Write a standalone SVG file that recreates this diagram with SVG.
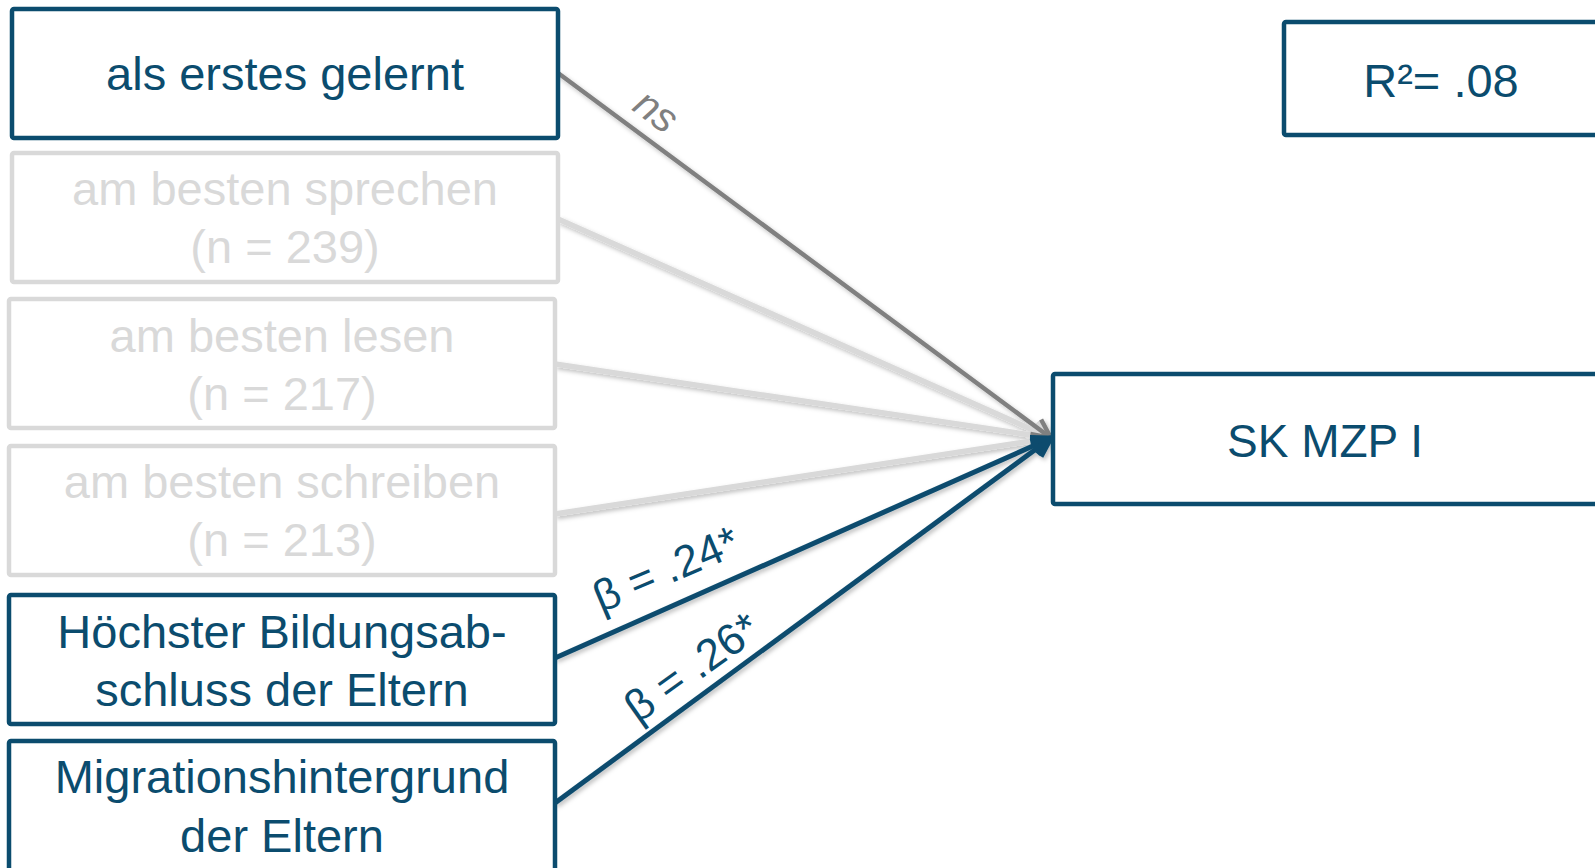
<svg xmlns="http://www.w3.org/2000/svg" width="1595" height="868" viewBox="0 0 1595 868">
<style>
  text { font-family: "Liberation Sans", Arial, sans-serif; text-anchor: middle; }
  .box { fill: #ffffff; stroke: #0b4c6e; stroke-width: 4.5; }
  .boxg { fill: #ffffff; stroke: #d9d9d9; stroke-width: 4.5; }
  .t { font-size: 47px; fill: #0b4c6e; }
  .tg { font-size: 47px; fill: #d9d9d9; }
  .lb { font-size: 44px; fill: #0b4c6e; text-anchor: start; }
  .ns { font-size: 41px; fill: #808080; font-style: italic; }
  .c-gray { stroke: #808080; stroke-width: 4.5; fill: none; }
  .c-light { stroke: #d9d9d9; stroke-width: 5.5; fill: none; }
  .c-blue { stroke: #0b4c6e; stroke-width: 5; fill: none; }
</style>
<defs>
  <filter id="sh" x="-10%" y="-10%" width="120%" height="130%">
    <feDropShadow dx="2" dy="2.5" stdDeviation="2" flood-color="#000" flood-opacity="0.25"/>
  </filter>
  <marker id="aGray" markerUnits="userSpaceOnUse" markerWidth="30" markerHeight="30" refX="22" refY="11" orient="auto" viewBox="0 0 30 22">
    <path d="M3,2 L22,11 L3,20" fill="none" stroke="#808080" stroke-width="4.5" stroke-linejoin="miter"/>
  </marker>
  <marker id="aLight" markerUnits="userSpaceOnUse" markerWidth="30" markerHeight="30" refX="22" refY="11" orient="auto" viewBox="0 0 30 22">
    <path d="M3,2 L22,11 L3,20" fill="none" stroke="#d9d9d9" stroke-width="5" stroke-linejoin="miter"/>
  </marker>
  <marker id="aBlue" markerUnits="userSpaceOnUse" markerWidth="30" markerHeight="30" refX="22" refY="11" orient="auto" viewBox="0 0 30 22">
    <path d="M3,2 L22,11 L3,20" fill="none" stroke="#0b4c6e" stroke-width="5" stroke-linejoin="miter"/>
  </marker>
</defs>
<rect width="1595" height="868" fill="#ffffff"/>

<g id="connectors" filter="url(#sh)">
  <line class="c-light" x1="558" y1="219" x2="1051" y2="438" marker-end="url(#aLight)"/>
  <line class="c-light" x1="555" y1="364" x2="1051" y2="438" marker-end="url(#aLight)"/>
  <line class="c-light" x1="555" y1="514" x2="1051" y2="438" marker-end="url(#aLight)"/>
  <line class="c-gray" x1="558" y1="73" x2="1051" y2="438" marker-end="url(#aGray)"/>
  <line class="c-blue" x1="555" y1="658" x2="1051" y2="438" marker-end="url(#aBlue)"/>
  <line class="c-blue" x1="555" y1="803" x2="1051" y2="438" marker-end="url(#aBlue)"/>
</g>

<g id="labels">
  <text class="ns" transform="translate(654,114) rotate(36.4)" x="0" y="10">ns</text>
  <text class="lb" transform="translate(601,613) rotate(-23)">β = .24*</text>
  <text class="lb" transform="translate(638,724) rotate(-35.5)">β = .26*</text>
</g>

<g id="node-erstes">
  <rect class="box" x="12" y="9" width="546" height="129" rx="2"/>
  <text class="t" x="285" y="90">als erstes gelernt</text>
</g>
<g id="node-sprechen">
  <rect class="boxg" x="12" y="153" width="546" height="129" rx="2"/>
  <text class="tg" x="285" y="205">am besten sprechen</text>
  <text class="tg" x="285" y="263">(n = 239)</text>
</g>
<g id="node-lesen">
  <rect class="boxg" x="9" y="299" width="546" height="129" rx="2"/>
  <text class="tg" x="282" y="352">am besten lesen</text>
  <text class="tg" x="282" y="410">(n = 217)</text>
</g>
<g id="node-schreiben">
  <rect class="boxg" x="9" y="446" width="546" height="129" rx="2"/>
  <text class="tg" x="282" y="498">am besten schreiben</text>
  <text class="tg" x="282" y="556">(n = 213)</text>
</g>
<g id="node-bildung">
  <rect class="box" x="9" y="595" width="546" height="129" rx="2"/>
  <text class="t" x="282" y="648">Höchster Bildungsab-</text>
  <text class="t" x="282" y="706">schluss der Eltern</text>
</g>
<g id="node-migration">
  <rect class="box" x="9" y="741" width="546" height="140" rx="2"/>
  <text class="t" x="282" y="793">Migrationshintergrund</text>
  <text class="t" x="282" y="852">der Eltern</text>
</g>
<g id="node-skmzp">
  <rect class="box" x="1053" y="374" width="560" height="130" rx="2"/>
  <text class="t" x="1325" y="457" style="font-size:46px">SK MZP I</text>
</g>
<g id="node-r2">
  <rect class="box" x="1284" y="22" width="330" height="113" rx="2"/>
  <text class="t" x="1441" y="97">R²= .08</text>
</g>
</svg>
